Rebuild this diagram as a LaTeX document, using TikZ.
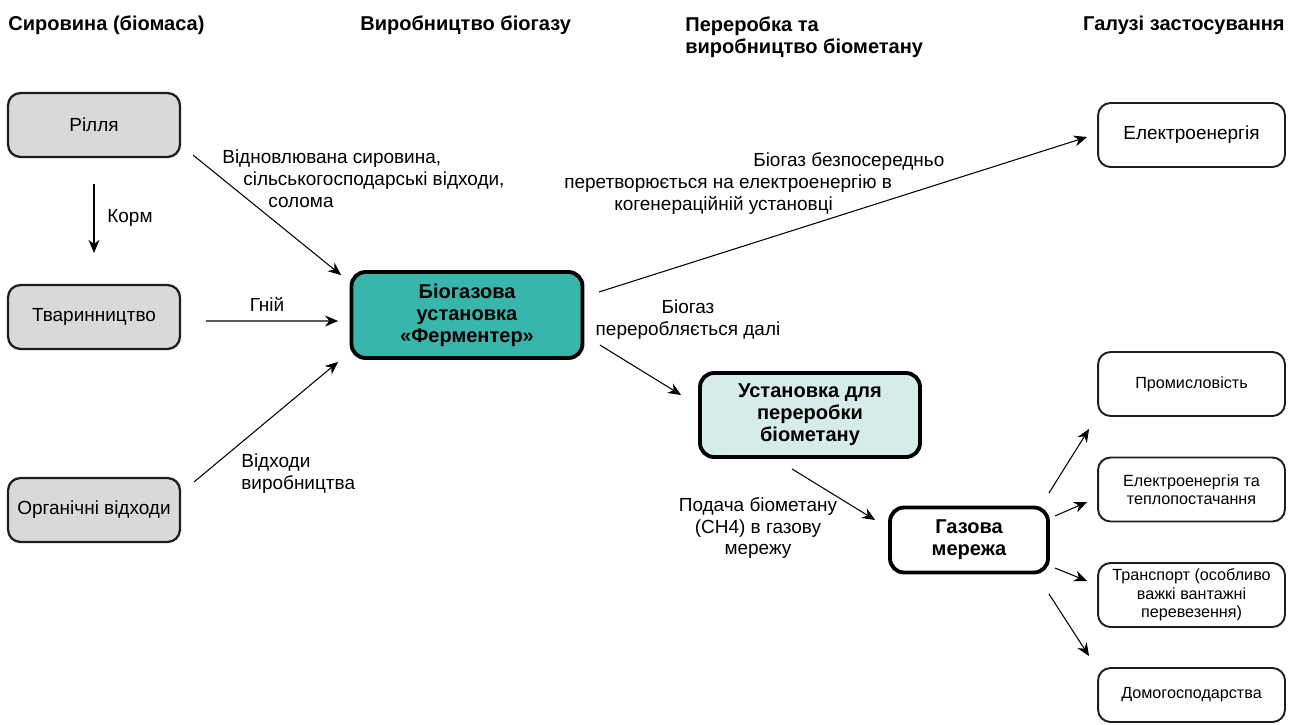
\documentclass[tikz,border=0pt]{standalone}
\usepackage{fontspec}
\setmainfont{Liberation Sans}
\usetikzlibrary{positioning,arrows.meta}

\definecolor{fermteal}{RGB}{56,182,171}
\definecolor{upgmint}{RGB}{213,236,232}
\definecolor{srcgrey}{RGB}{217,217,217}
\definecolor{edgedark}{RGB}{30,30,30}

\tikzset{
  srcbox/.style={draw=edgedark, line width=1.3pt, rounded corners=0.25cm, fill=srcgrey,
    minimum width=3.44cm, minimum height=1.28cm, font=\fontsize{10.8}{12.5}\selectfont},
  plantbox/.style={draw=black, line width=2.2pt, rounded corners=0.28cm, align=center,
    font=\bfseries\fontsize{11.4}{12.5}\selectfont},
  usebox/.style={draw=edgedark, line width=1.1pt, rounded corners=0.25cm, fill=white,
    minimum width=3.74cm, minimum height=1.28cm, align=center, font=\fontsize{9.2}{10.5}\selectfont},
  flow/.style={-{Stealth[length=2.6mm,width=2.2mm]}, line width=0.6pt},
  lbl/.style={font=\fontsize{10.8}{12.5}\selectfont, inner sep=0pt},
  colhead/.style={font=\bfseries\fontsize{11.4}{13}\selectfont, align=left, inner sep=0pt}
}

\begin{document}
\begin{tikzpicture}[x=0.02cm, y=-0.02cm]
    \useasboundingbox (0,0) rectangle (1294,724);

    % Column headers
    \node[colhead, anchor=west] (h1) at (8,25) {Сировина (біомаса)};
    \node[colhead, anchor=west] (h2) at (360,25) {Виробництво біогазу};
    \node[colhead, anchor=north west] (h3) at (685,16) {Переробка та\\виробництво біометану};
    \node[colhead, anchor=east] (h4) at (1285,25) {Галузі застосування};

    % Raw material
    \node[srcbox] (rillia) at (94,125) {Рілля};
    \node[srcbox] (tvar) at (94,317) {Тваринництво};
    \node[srcbox] (org) at (94,510) {Органічні відходи};

    % Plants
    \node[plantbox, fill=fermteal, minimum width=4.62cm, minimum height=1.72cm] (ferm) at (467,315)
        {Біогазова\\установка\\«Ферментер»};
    \node[plantbox, fill=upgmint, minimum width=4.4cm, minimum height=1.68cm] (ustan) at (810,415)
        {Установка для\\переробки\\біометану};
    \node[plantbox, fill=white, minimum width=3.16cm, minimum height=1.3cm] (gas) at (969,540)
        {Газова\\мережа};

    % Uses
    \node[usebox, font=\fontsize{10.8}{12.5}\selectfont] (el) at (1191.5,135) {Електроенергія};
    \node[usebox] (prom) at (1191.5,384) {Промисловість};
    \node[usebox] (elt) at (1191.5,489.5) {Електроенергія та\\теплопостачання};
    \node[usebox] (trans) at (1191.5,595) {Транспорт (особливо\\важкі вантажні\\перевезення)};
    \node[usebox, minimum height=1.08cm] (dom) at (1191.5,695) {Домогосподарства};

    % Flows
    \draw[flow, shorten <=0.52cm, shorten >=0.62cm] (rillia.south) -- (tvar.north);
    \draw[flow] ([xshift=0.24cm,yshift=0.06cm]rillia.south east) -- ([xshift=-0.17cm,yshift=-0.1cm]ferm.north west);
    \draw[flow] ([xshift=0.5cm,yshift=-0.08cm]tvar.east) -- ([xshift=-0.23cm,yshift=-0.12cm]ferm.west);
    \draw[flow] ([xshift=0.26cm,yshift=-0.1cm]org.north east) -- ([xshift=-0.23cm,yshift=-0.04cm]ferm.south west);
    \draw[flow] ([xshift=0.29cm,yshift=0.46cm]ferm.east) -- ([xshift=-0.2cm,yshift=-0.04cm]el.west);
    \draw[flow] ([xshift=0.31cm,yshift=-0.6cm]ferm.east) -- ([xshift=-0.34cm,yshift=0.4cm]ustan.west);
    \draw[flow] ([xshift=-0.36cm,yshift=-0.2cm]ustan.south) -- ([xshift=-0.26cm,yshift=0.4cm]gas.west);
    \draw[flow] ([xshift=-0.02cm,yshift=0.25cm]gas.north east) -- ([xshift=-0.16cm,yshift=-0.24cm]prom.south west);
    \draw[flow] ([xshift=0.1cm,yshift=0.48cm]gas.east) -- ([xshift=-0.2cm,yshift=-0.25cm]elt.west);
    \draw[flow] ([xshift=0.1cm,yshift=-0.56cm]gas.east) -- ([xshift=-0.2cm,yshift=0.28cm]trans.west);
    \draw[flow] ([xshift=-0.02cm,yshift=-0.39cm]gas.south east) -- ([xshift=-0.16cm,yshift=0.22cm]dom.north west);

    % Flow labels
    \node[lbl, anchor=west] (korm) at (107,218) {Корм};
    \node[lbl, anchor=north west, align=left] (renew) at (222,149)
        {Відновлювана сировина,\\\hspace*{0.42cm}сільськогосподарські відходи,\\\hspace*{0.92cm}солома};
    \node[lbl] (hnii) at (267,304) {Гній};
    \node[lbl, anchor=north west, align=left] (vidkh) at (241,453) {Відходи\\виробництва};
    \node[lbl, anchor=north west, align=left] (chp) at (564,152)
        {\hspace*{3.78cm}Біогаз безпосередньо\\перетворюється на електроенергію в\\\hspace*{1cm}когенераційній установці};
    \node[lbl, align=center] (further) at (688,320) {Біогаз\\переробляється далі};
    \node[lbl, align=center] (feed) at (758,528) {Подача біометану\\(CH4) в газову\\мережу};
\end{tikzpicture}
\end{document}
